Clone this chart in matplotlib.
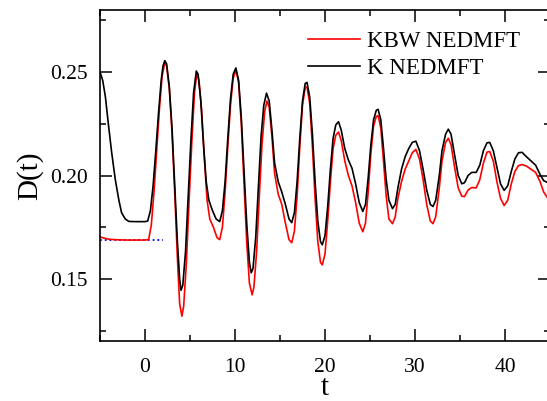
import matplotlib
matplotlib.use("Agg")
import matplotlib.pyplot as plt
from matplotlib.ticker import MultipleLocator

plt.rcParams['font.family'] = ['Liberation Serif', 'DejaVu Serif']

# K NEDMFT (black)
t_k = [-5, -4.7, -4.4, -4.1, -3.7, -3.3, -2.9, -2.6, -2.2, -1.8, -1, 0, 0.3, 0.6, 0.9,
       1.2, 1.5, 1.8, 2.0, 2.2, 2.4, 2.7, 3.0, 3.3, 3.6, 3.85, 4.0, 4.2, 4.5, 4.8,
       5.1, 5.4, 5.7, 5.9, 6.2, 6.5, 6.8, 7.1, 7.5, 7.9, 8.3, 8.6, 8.9, 9.2, 9.5,
       9.8, 10.1, 10.4, 10.7, 11.0, 11.3, 11.6, 11.8, 12.0, 12.3, 12.6, 12.9, 13.2, 13.5,
       13.8, 14.1, 14.4, 14.8, 15.2, 15.6, 16.0, 16.3, 16.6, 16.9, 17.2, 17.5, 17.8, 18.0,
       18.3, 18.6, 18.9, 19.2, 19.5, 19.7, 20.0, 20.3, 20.6, 20.9, 21.2, 21.5, 21.8, 22.2,
       22.6, 23.0, 23.4, 23.8, 24.2, 24.5, 24.8, 25.1, 25.4, 25.7, 25.9, 26.2, 26.5, 26.8,
       27.1, 27.5, 27.8, 28.1, 28.5, 28.9, 29.3, 29.7, 30.1, 30.5, 30.9, 31.3, 31.7, 32.0,
       32.3, 32.7, 33.0, 33.4, 33.7, 34.0, 34.4, 34.8, 35.2, 35.5, 35.9, 36.3, 36.8, 37.2,
       37.6, 38.0, 38.3, 38.7, 39.1, 39.5, 39.9, 40.3, 40.7, 41.1, 41.5, 41.9, 42.4, 42.9,
       43.4, 43.9, 44.3, 45]
d_k = [0.250, 0.246, 0.238, 0.226, 0.211, 0.198, 0.188, 0.182, 0.179, 0.1778, 0.1777, 0.1777, 0.178, 0.183, 0.195,
       0.212, 0.230, 0.246, 0.253, 0.2555, 0.254, 0.243, 0.223, 0.196, 0.168, 0.150, 0.1445, 0.147, 0.163, 0.190,
       0.217, 0.240, 0.2505, 0.249, 0.236, 0.215, 0.197, 0.188, 0.183, 0.179, 0.1777, 0.183, 0.197, 0.218, 0.237,
       0.249, 0.252, 0.246, 0.228, 0.202, 0.177, 0.158, 0.153, 0.155, 0.170, 0.195, 0.219, 0.234, 0.2398,
       0.236, 0.222, 0.206, 0.197, 0.192, 0.186, 0.179, 0.1772, 0.182, 0.197, 0.218, 0.236, 0.2445, 0.245,
       0.238, 0.220, 0.197, 0.178, 0.168, 0.1665, 0.171, 0.185, 0.203, 0.218, 0.2245, 0.226, 0.222, 0.213,
       0.2075, 0.2035, 0.196, 0.187, 0.1826, 0.186, 0.199, 0.215, 0.227, 0.2315, 0.232, 0.227, 0.213, 0.198,
       0.188, 0.184, 0.186, 0.194, 0.203, 0.209, 0.213, 0.216, 0.2166, 0.212, 0.203, 0.193, 0.186, 0.185,
       0.188, 0.200, 0.212, 0.220, 0.2224, 0.220, 0.210, 0.200, 0.196, 0.1965, 0.200, 0.2015, 0.2015, 0.205,
       0.212, 0.2158, 0.216, 0.212, 0.204, 0.196, 0.1928, 0.195, 0.202, 0.208, 0.211, 0.2112, 0.209, 0.207,
       0.205, 0.2005, 0.1975, 0.196]

# KBW NEDMFT (red)
t_kbw = [-5, -4.5, -4, -3, -2, -1, 0, 0.4, 0.7, 1.0, 1.3, 1.6, 1.9, 2.2, 2.4, 2.7, 3.0, 3.3, 3.6,
         3.85, 4.1, 4.3, 4.6, 4.9, 5.2, 5.5, 5.75, 6.0, 6.3, 6.6, 6.9, 7.2, 7.6, 8.0, 8.3,
         8.6, 8.9, 9.2, 9.5, 9.8, 10.1, 10.4, 10.7, 11.0, 11.3, 11.6, 11.9, 12.1, 12.4, 12.7,
         13.0, 13.3, 13.55, 13.8, 14.1, 14.4, 14.8, 15.2, 15.6, 16.0, 16.3, 16.6, 16.9, 17.2,
         17.5, 17.8, 18.0, 18.3, 18.6, 18.9, 19.2, 19.5, 19.7, 20.0, 20.3, 20.6, 20.9, 21.2,
         21.5, 21.8, 22.2, 22.6, 23.0, 23.4, 23.8, 24.2, 24.5, 24.8, 25.1, 25.4, 25.7, 25.9,
         26.2, 26.5, 26.8, 27.1, 27.5, 27.8, 28.1, 28.5, 28.9, 29.3, 29.7, 30.1, 30.5, 30.9,
         31.3, 31.7, 32.0, 32.3, 32.7, 33.0, 33.4, 33.7, 34.0, 34.4, 34.8, 35.2, 35.5, 35.9,
         36.3, 36.8, 37.2, 37.6, 38.0, 38.3, 38.7, 39.1, 39.5, 39.9, 40.3, 40.7, 41.1, 41.5,
         41.9, 42.4, 42.9, 43.4, 43.9, 44.3, 45]
d_kbw = [0.1703, 0.1697, 0.1692, 0.1689, 0.1688, 0.1688, 0.1688, 0.1690, 0.176, 0.192, 0.212, 0.232, 0.248, 0.2545, 0.253, 0.242, 0.221, 0.192, 0.160,
         0.138, 0.132, 0.137, 0.158, 0.188, 0.216, 0.240, 0.249, 0.246, 0.231, 0.208, 0.188, 0.179, 0.175, 0.170, 0.169,
         0.175, 0.192, 0.214, 0.234, 0.247, 0.251, 0.245, 0.225, 0.196, 0.168, 0.148, 0.1423, 0.146, 0.163, 0.190,
         0.215, 0.231, 0.236, 0.233, 0.219, 0.201, 0.191, 0.186, 0.177, 0.169, 0.1675, 0.173, 0.190, 0.214,
         0.234, 0.2425, 0.2428, 0.235, 0.214, 0.189, 0.168, 0.158, 0.1568, 0.162, 0.178, 0.197, 0.213, 0.2195,
         0.221, 0.217, 0.207, 0.200, 0.195, 0.187, 0.177, 0.1728, 0.177, 0.192, 0.211, 0.224, 0.2285, 0.229,
         0.223, 0.207, 0.190, 0.179, 0.1767, 0.180, 0.189, 0.197, 0.203, 0.207, 0.211, 0.2126, 0.208, 0.198,
         0.186, 0.178, 0.1767, 0.180, 0.194, 0.207, 0.216, 0.218, 0.215, 0.204, 0.194, 0.190, 0.1898, 0.193,
         0.1942, 0.194, 0.198, 0.206, 0.2113, 0.2116, 0.207, 0.197, 0.189, 0.1855, 0.188, 0.196, 0.202, 0.2048,
         0.2053, 0.2045, 0.203, 0.2015, 0.197, 0.192, 0.1875]

# equilibrium reference (blue dotted)
t_eq = [-5, 2.0]
d_eq = [0.1687, 0.1687]

fig = plt.figure(figsize=(5.47, 4.01), dpi=100)
ax = fig.add_axes([100/547, 60/401, 450/547, 331/401])

ax.plot(t_eq, d_eq, ':', color='blue', linewidth=1.3)
l1, = ax.plot(t_kbw, d_kbw, '-', color='red', linewidth=1.2, label='KBW NEDMFT')
l2, = ax.plot(t_k, d_k, '-', color='black', linewidth=1.2, label='K NEDMFT')

ax.set_xlim(-5, 45)
ax.set_ylim(0.12, 0.28)
ax.xaxis.set_major_locator(MultipleLocator(10))
ax.xaxis.set_minor_locator(MultipleLocator(5))
ax.yaxis.set_major_locator(MultipleLocator(0.05))
ax.yaxis.set_minor_locator(MultipleLocator(0.025))
ax.yaxis.set_major_formatter(plt.FormatStrFormatter('%.2f'))

ax.tick_params(which='both', direction='in', top=True, right=True, width=1.1, labelsize=15.5)
ax.tick_params(which='major', length=8.5)
ax.tick_params(which='minor', length=4.5)
ax.tick_params(axis='y', which='major', pad=9)
ax.tick_params(axis='x', which='major', pad=12)
for s in ax.spines.values():
    s.set_linewidth(1.2)

ax.set_xlabel('t', fontsize=21, labelpad=-1.5)
ax.set_ylabel('D(t)', fontsize=21, labelpad=5)

ax.legend(handles=[l1, l2], loc='upper left', bbox_to_anchor=(0.462, 0.938),
          frameon=False, fontsize=16.5, handlelength=2.27, handletextpad=0.3,
          labelspacing=0.27, borderpad=0, borderaxespad=0)

fig.savefig('out.png', dpi=100)
